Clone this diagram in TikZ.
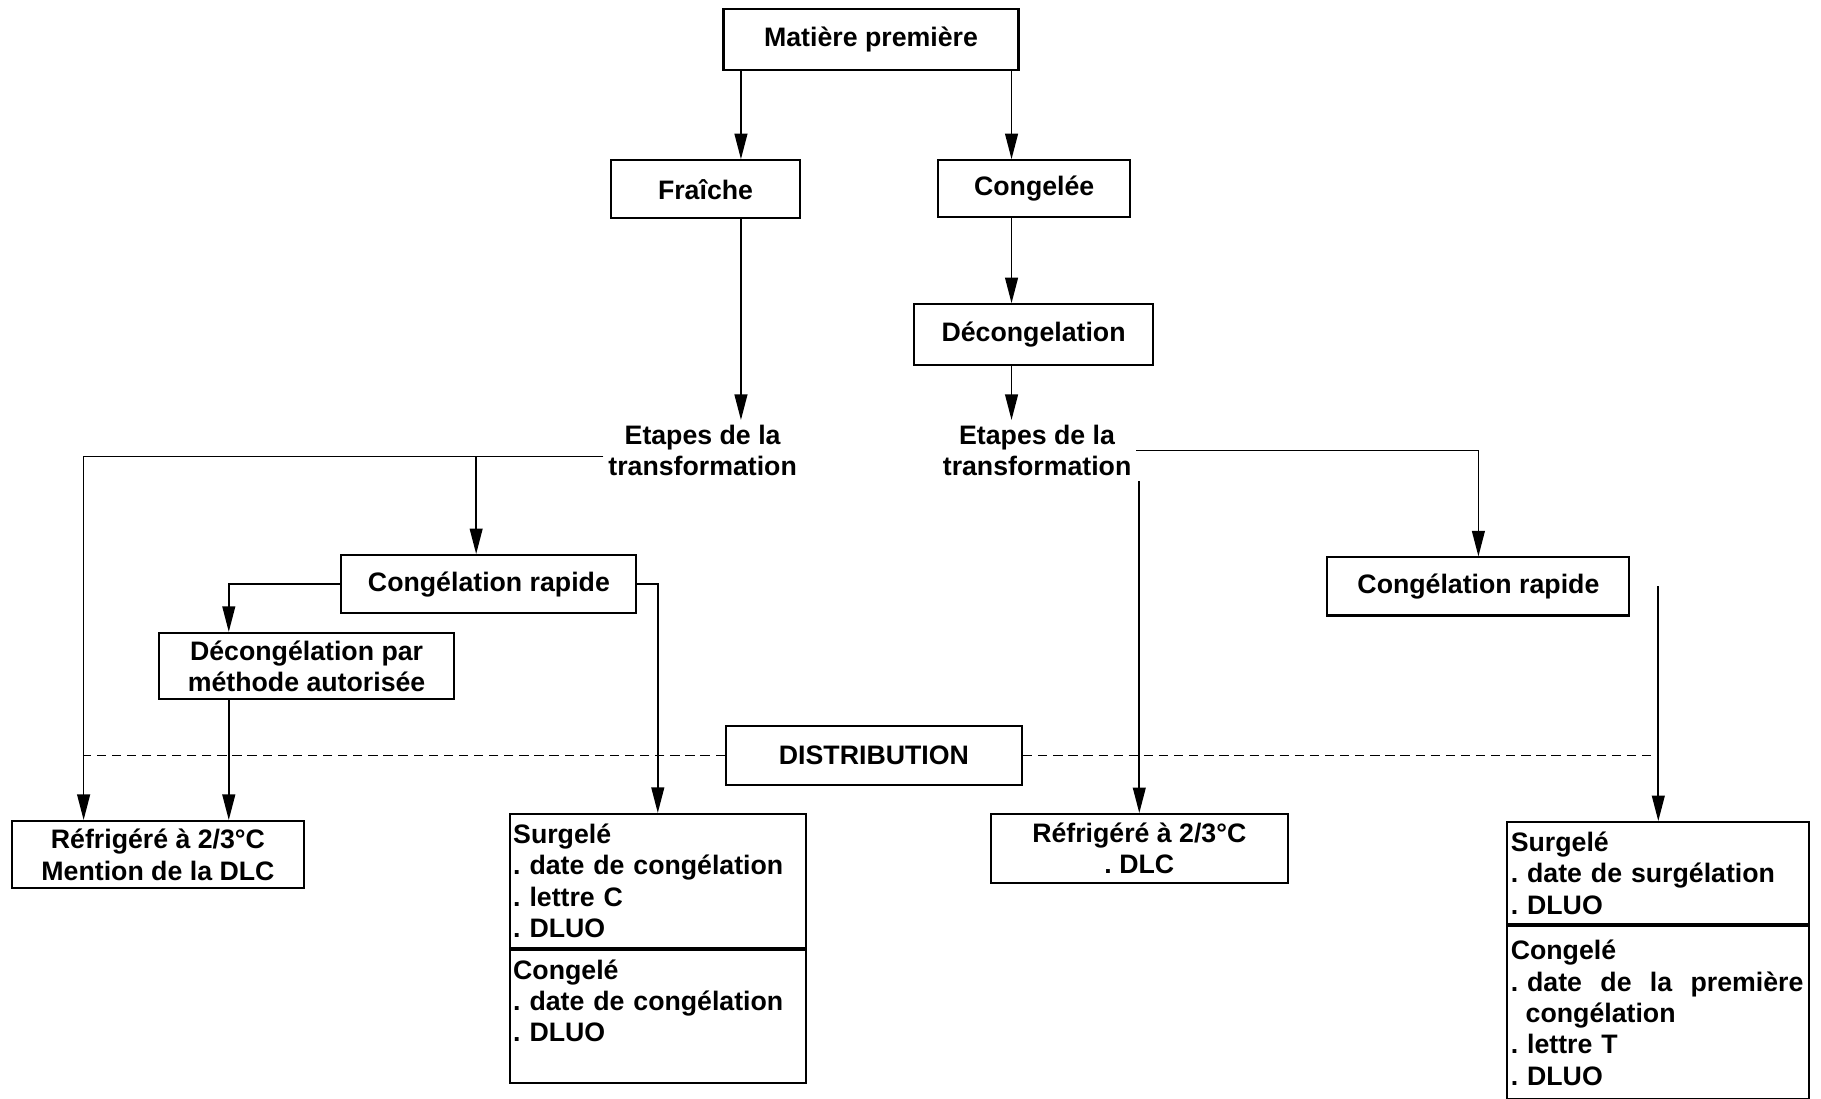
\documentclass[tikz,border=0pt]{standalone}
\usepackage{fontspec}
\setmainfont{Liberation Sans}
\usetikzlibrary{arrows.meta}
\frenchspacing
\begin{document}
\begin{tikzpicture}[x=0.5pt,y=-0.5pt,
  txt/.style={font=\fontsize{11.5}{13.5}\selectfont\bfseries},
  box/.style={draw, line width=0.9pt, inner sep=0pt, align=center, txt},
  label/.style={inner sep=2pt, align=center, txt},
  list/.style={draw, line width=0.9pt, inner xsep=1.5pt, inner ysep=0pt,
               align=left, txt, anchor=north west},
  link/.style={line width=0.75pt},
  arr/.style={link, -{Triangle[length=11pt,width=5.5pt]}},
  distline/.style={line width=0.8pt, dash pattern=on 4pt off 2.5pt}]

\fill[white] (0,0) rectangle (1568,946);
\useasboundingbox (0,0) rectangle (1568,946);

% columns used by the connectors
\coordinate (cA) at (638,0);
\coordinate (cB) at (871,0);
\coordinate (cC) at (410,0);
\coordinate (cD) at (197,0);
\coordinate (aL) at (72,393);

% upper part
\node[box, minimum width=127pt, minimum height=26pt] (mp) at (750,34) {Matière première};
\node[box, minimum width=81.5pt, minimum height=25pt] (fr) at (607.5,163) {Fraîche};
\node[box, minimum width=82.5pt, minimum height=24.5pt] (cg) at (890.5,162.5) {Congelée};
\node[box, minimum width=103pt, minimum height=26pt] (dec) at (890,288) {Décongelation};
\node[label] (etL) at (605,388) {Etapes de la\\transformation};
\node[label] (etR) at (893,388) {Etapes de la\\transformation};

% treatments
\node[box, minimum width=127pt, minimum height=25pt] (crL) at (421,503) {Congélation rapide};
\node[box, minimum width=127pt, minimum height=28.5pt] (dp) at (264,573.5) {Décongélation par\\méthode autorisée};
\node[box, minimum width=130pt, minimum height=25pt] (crR) at (1273,505) {Congélation rapide};
\node[box, minimum width=127.5pt, minimum height=25.5pt] (dist) at (752.5,650.5) {DISTRIBUTION};

% products on sale
\node[box, minimum width=126pt, minimum height=29pt] (refL) at (136,736) {Réfrigéré à 2/3°C\\Mention de la DLC};
\node[box, minimum width=128pt, minimum height=29.5pt] (refR) at (981,730.5) {Réfrigéré à 2/3°C\\. DLC};

\node[list, text width=124.5pt, minimum height=57.5pt] (surL) at (438,700)
  {Surgelé\\. date de congélation\\. lettre C\\. DLUO};
\node[list, text width=124.5pt, minimum height=57.5pt] (surLb) at (surL.south west)
  {Congelé\\. date de congélation\\. DLUO\\\mbox{}};

\node[list, text width=127pt, minimum height=44pt] (surR) at (1297,707)
  {Surgelé\\. date de surgélation\\. DLUO};
\node[list, text width=127pt, minimum height=74.5pt] (surRb) at (surR.south west)
  {Congelé\\\leavevmode\hbox to 126pt{. date\hfill de\hfill la\hfill première}\\\hspace*{6.4pt}congélation\\. lettre T\\. DLUO};

% connectors
\draw[arr] (mp.south -| cA) -- (fr.north -| cA);
\draw[arr] (mp.south -| cB) -- (cg.north -| cB);
\draw[arr] (fr.south -| cA) -- (etL.north -| cA);
\draw[arr] (cg.south -| cB) -- (dec.north -| cB);
\draw[arr] (dec.south -| cB) -- (etR.north -| cB);

\draw[link] (etL.west |- aL) -- (aL);
\draw[arr] (aL) -- (aL |- refL.north);
\draw[arr] (aL -| cC) -- (cC |- crL.north);
\draw[arr] (crL.west) -| (cD |- dp.north);
\draw[arr] (cD |- dp.south) -- (cD |- refL.north);
\draw[arr] (crL.east) -| (surL.north);

\draw[arr] (etR.east) -| (crR.north);
\draw[arr] (etR.south east -| refR.north) -- (refR.north);
\draw[arr] (crR.east -| surR.north) -- (surR.north);

\draw[distline] (dist.west) -- (dist.west -| aL);
\draw[distline] (dist.east) -- (dist.east -| surR.north);
\end{tikzpicture}
\end{document}
